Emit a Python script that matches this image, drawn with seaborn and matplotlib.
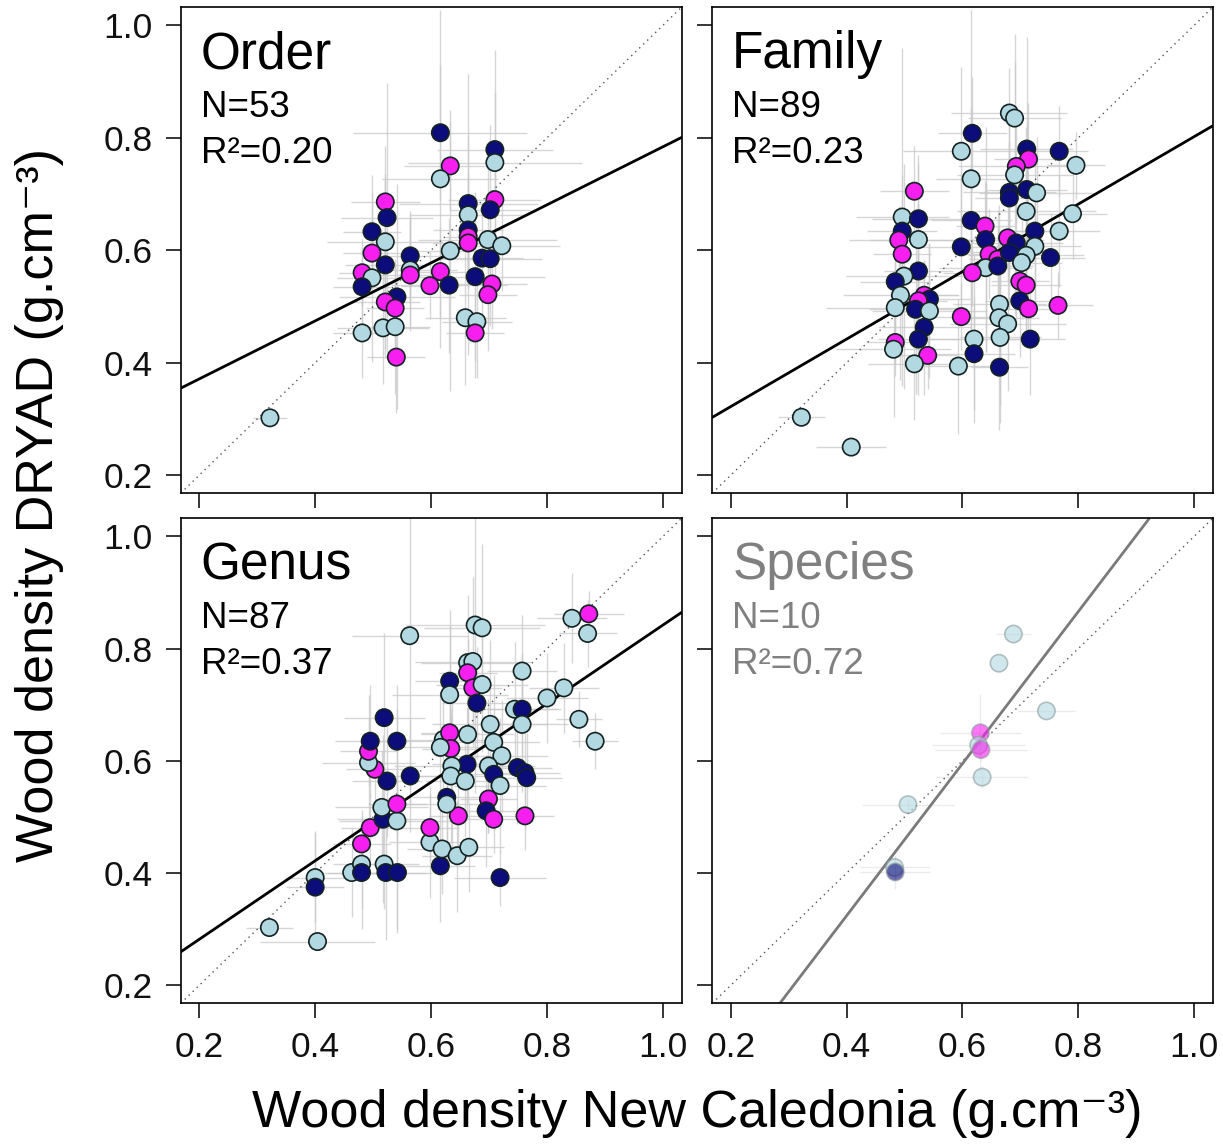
import numpy as np
import pandas as pd
import matplotlib
matplotlib.use("Agg")
import matplotlib.pyplot as plt
import seaborn as sns

# ---------------- data ----------------
# groups: D = dark blue, M = magenta, L = light blue
order_x = [0.322, 0.616, 0.710, 0.710, 0.633, 0.616, 0.521, 0.710, 0.664, 0.702,
           0.524, 0.664, 0.498, 0.664, 0.521, 0.664, 0.664, 0.698, 0.722, 0.633,
           0.498, 0.564, 0.688, 0.702, 0.521, 0.564, 0.481, 0.498, 0.564, 0.616,
           0.598, 0.631, 0.676, 0.705, 0.698, 0.481, 0.541, 0.521, 0.538, 0.659,
           0.679, 0.676, 0.481, 0.517, 0.538, 0.540]
order_y = [0.302, 0.809, 0.779, 0.756, 0.750, 0.727, 0.686, 0.690, 0.683, 0.672,
           0.658, 0.663, 0.633, 0.636, 0.615, 0.624, 0.613, 0.619, 0.608, 0.599,
           0.595, 0.590, 0.586, 0.585, 0.574, 0.565, 0.560, 0.551, 0.556, 0.562,
           0.537, 0.538, 0.553, 0.540, 0.521, 0.535, 0.517, 0.508, 0.497, 0.480,
           0.473, 0.453, 0.453, 0.462, 0.464, 0.410]
order_grp = list("LDDLMLMMDD" "DLDDLMMLLL" "MDDDDLMLMM" "MDDMMDDMML" "LMLLLM")
order_xerr = [0.03, 0.15, 0.10, 0.15, 0.08, 0.10, 0.06, 0.08, 0.12, 0.07,
              0.08, 0.10, 0.05, 0.06, 0.10, 0.04, 0.06, 0.12, 0.10, 0.08,
              0.05, 0.06, 0.07, 0.09, 0.07, 0.08, 0.04, 0.06, 0.05, 0.06,
              0.05, 0.10, 0.12, 0.06, 0.05, 0.05, 0.10, 0.06, 0.05, 0.07,
              0.06, 0.05, 0.05, 0.08, 0.06, 0.05]
order_yerr = [0.01, 0.12, 0.10, 0.20, 0.08, 0.30, 0.10, 0.10, 0.12, 0.15,
              0.24, 0.25, 0.10, 0.10, 0.12, 0.06, 0.08, 0.15, 0.08, 0.25,
              0.06, 0.08, 0.10, 0.12, 0.15, 0.10, 0.06, 0.15, 0.10, 0.08,
              0.06, 0.12, 0.15, 0.08, 0.10, 0.07, 0.20, 0.10, 0.08, 0.12,
              0.10, 0.08, 0.08, 0.10, 0.12, 0.10]

family_x = [0.322, 0.408, 0.681, 0.690, 0.617, 0.598, 0.767, 0.711, 0.714, 0.693,
            0.796, 0.690, 0.615, 0.517, 0.681, 0.711, 0.728, 0.681, 0.710, 0.790,
            0.496, 0.524, 0.615, 0.639, 0.496, 0.767, 0.725, 0.490, 0.524, 0.678,
            0.693, 0.640, 0.598, 0.496, 0.646, 0.661, 0.681, 0.725, 0.710, 0.752,
            0.702, 0.640, 0.661, 0.617, 0.524, 0.499, 0.484, 0.699, 0.710, 0.493,
            0.534, 0.543, 0.524, 0.519, 0.543, 0.484, 0.699, 0.664, 0.714, 0.765,
            0.663, 0.598, 0.678, 0.534, 0.524, 0.484, 0.481, 0.620, 0.665, 0.717,
            0.540, 0.620, 0.517, 0.593, 0.664]
family_y = [0.303, 0.250, 0.844, 0.835, 0.808, 0.776, 0.776, 0.780, 0.762, 0.749,
            0.751, 0.734, 0.727, 0.705, 0.703, 0.708, 0.702, 0.693, 0.669, 0.665,
            0.659, 0.656, 0.653, 0.643, 0.634, 0.634, 0.634, 0.618, 0.619, 0.622,
            0.613, 0.619, 0.606, 0.593, 0.593, 0.584, 0.596, 0.607, 0.591, 0.587,
            0.578, 0.569, 0.572, 0.560, 0.563, 0.554, 0.544, 0.545, 0.538, 0.520,
            0.520, 0.513, 0.510, 0.495, 0.492, 0.498, 0.510, 0.504, 0.496, 0.502,
            0.480, 0.482, 0.469, 0.463, 0.442, 0.436, 0.424, 0.442, 0.445, 0.442,
            0.413, 0.416, 0.398, 0.394, 0.392]
family_grp = list("LLLLDLDDMM" "LLLMDDLDLL" "LDDMDLDMLM" "DDDMMMDLLD" "LLDMDLDMML"
                  "MDMDLLDLMM" "LMLDDMLLLD" "MDLLD")
family_xerr = [0.04, 0.06, 0.10, 0.08, 0.06, 0.10, 0.05, 0.08, 0.06, 0.10,
               0.05, 0.10, 0.06, 0.06, 0.08, 0.07, 0.10, 0.06, 0.12, 0.06,
               0.08, 0.08, 0.07, 0.05, 0.06, 0.07, 0.06, 0.05, 0.12, 0.06,
               0.08, 0.10, 0.07, 0.05, 0.06, 0.05, 0.07, 0.08, 0.10, 0.06,
               0.07, 0.08, 0.06, 0.05, 0.06, 0.10, 0.06, 0.05, 0.06, 0.10,
               0.06, 0.07, 0.05, 0.08, 0.10, 0.12, 0.06, 0.08, 0.05, 0.06,
               0.07, 0.05, 0.10, 0.08, 0.07, 0.05, 0.10, 0.08, 0.07, 0.06,
               0.05, 0.07, 0.08, 0.06, 0.05]
family_yerr = [0.01, 0.01, 0.08, 0.10, 0.10, 0.15, 0.08, 0.20, 0.10, 0.10,
               0.06, 0.25, 0.30, 0.08, 0.15, 0.12, 0.10, 0.10, 0.15, 0.08,
               0.30, 0.10, 0.20, 0.08, 0.10, 0.10, 0.12, 0.06, 0.15, 0.08,
               0.15, 0.20, 0.12, 0.06, 0.08, 0.06, 0.10, 0.10, 0.15, 0.08,
               0.10, 0.15, 0.10, 0.06, 0.12, 0.20, 0.10, 0.06, 0.08, 0.15,
               0.06, 0.10, 0.08, 0.15, 0.12, 0.10, 0.10, 0.12, 0.06, 0.06,
               0.20, 0.06, 0.12, 0.12, 0.10, 0.06, 0.12, 0.15, 0.12, 0.10,
               0.06, 0.10, 0.10, 0.12, 0.10]

genus_x = [0.321, 0.404, 0.400, 0.400, 0.463, 0.480, 0.480, 0.519, 0.522, 0.542,
           0.616, 0.719, 0.598, 0.619, 0.645, 0.665, 0.480, 0.495, 0.598, 0.517,
           0.541, 0.515, 0.541, 0.647, 0.627, 0.627, 0.699, 0.695, 0.708, 0.762,
           0.564, 0.524, 0.503, 0.492, 0.492, 0.495, 0.541, 0.519, 0.563, 0.621,
           0.632, 0.634, 0.663, 0.632, 0.632, 0.663, 0.672, 0.663, 0.672, 0.688,
           0.679, 0.676, 0.688, 0.757, 0.744, 0.757, 0.757, 0.702, 0.708, 0.722,
           0.662, 0.699, 0.708, 0.719, 0.636, 0.634, 0.659, 0.749, 0.762, 0.765,
           0.800, 0.829, 0.843, 0.872, 0.870, 0.855, 0.883, 0.616]
genus_y = [0.303, 0.278, 0.392, 0.375, 0.401, 0.416, 0.401, 0.416, 0.401, 0.401,
           0.413, 0.392, 0.455, 0.443, 0.431, 0.446, 0.452, 0.481, 0.481, 0.496,
           0.493, 0.517, 0.523, 0.502, 0.535, 0.523, 0.532, 0.511, 0.496, 0.502,
           0.573, 0.564, 0.585, 0.597, 0.617, 0.635, 0.635, 0.677, 0.823, 0.638,
           0.650, 0.622, 0.647, 0.742, 0.718, 0.775, 0.777, 0.757, 0.730, 0.736,
           0.703, 0.842, 0.837, 0.760, 0.692, 0.692, 0.665, 0.665, 0.633, 0.609,
           0.594, 0.591, 0.576, 0.556, 0.591, 0.573, 0.564, 0.588, 0.579, 0.570,
           0.712, 0.730, 0.854, 0.862, 0.827, 0.674, 0.635, 0.624]
genus_grp = list("LLLDLLDLDD" "DDLLLLMMMD" "LLMMDLMDMM" "DDMLMDDDLL" "MMLDLLLMML"
                 "DLLLLDLLLL" "DLDLLLLDDD" "LLLMLLLL")
genus_xerr = [0.04, 0.10, 0.05, 0.05, 0.06, 0.05, 0.06, 0.06, 0.07, 0.06,
              0.06, 0.08, 0.07, 0.06, 0.06, 0.06, 0.05, 0.05, 0.05, 0.08,
              0.10, 0.08, 0.05, 0.05, 0.06, 0.08, 0.05, 0.06, 0.05, 0.05,
              0.06, 0.06, 0.05, 0.08, 0.05, 0.06, 0.06, 0.07, 0.10, 0.08,
              0.05, 0.05, 0.08, 0.06, 0.10, 0.08, 0.10, 0.05, 0.05, 0.08,
              0.06, 0.12, 0.10, 0.06, 0.08, 0.06, 0.08, 0.10, 0.08, 0.08,
              0.06, 0.08, 0.06, 0.08, 0.10, 0.08, 0.07, 0.06, 0.06, 0.06,
              0.07, 0.06, 0.06, 0.06, 0.05, 0.04, 0.04, 0.08]
genus_yerr = [0.01, 0.01, 0.08, 0.10, 0.08, 0.08, 0.10, 0.08, 0.12, 0.10,
              0.10, 0.05, 0.10, 0.08, 0.10, 0.08, 0.06, 0.06, 0.06, 0.15,
              0.20, 0.10, 0.06, 0.06, 0.10, 0.10, 0.06, 0.10, 0.06, 0.06,
              0.10, 0.10, 0.06, 0.12, 0.06, 0.10, 0.10, 0.15, 0.30, 0.12,
              0.06, 0.06, 0.12, 0.10, 0.15, 0.12, 0.15, 0.06, 0.06, 0.12,
              0.10, 0.30, 0.15, 0.10, 0.12, 0.10, 0.12, 0.15, 0.12, 0.10,
              0.10, 0.12, 0.10, 0.12, 0.15, 0.12, 0.10, 0.10, 0.10, 0.08,
              0.08, 0.08, 0.08, 0.04, 0.06, 0.05, 0.05, 0.10]

species_x = [0.688, 0.663, 0.745, 0.631, 0.628, 0.632, 0.634, 0.506, 0.483, 0.484]
species_y = [0.826, 0.774, 0.689, 0.650, 0.628, 0.620, 0.571, 0.522, 0.410, 0.402]
species_grp = list("LLLMLMLLLD")
species_xerr = [0.03, 0.00, 0.05, 0.07, 0.08, 0.08, 0.08, 0.08, 0.06, 0.06]
species_yerr = [0.00, 0.00, 0.00, 0.07, 0.02, 0.02, 0.02, 0.01, 0.02, 0.03]

panel_names = ["Order", "Family", "Genus", "Species"]
panel_n = [53, 89, 87, 10]
panel_r2 = ["0.20", "0.23", "0.37", "0.72"]
fit_intercept = [0.268, 0.202, 0.142, -0.218]
fit_slope = [0.516, 0.600, 0.700, 1.355]
tick_values = [0.2, 0.4, 0.6, 0.8, 1.0]
xlabel_text = "Wood density New Caledonia (g.cm⁻³)"
ylabel_text = "Wood density DRYAD (g.cm⁻³)"

# ---------------- style ----------------
sns.set_theme(style="ticks")
plt.rcParams["font.family"] = ["Liberation Sans", "DejaVu Sans"]
plt.rcParams["text.color"] = "black"
plt.rcParams["axes.labelcolor"] = "black"
plt.rcParams["xtick.color"] = "black"
plt.rcParams["ytick.color"] = "black"

palette = {"D": "#0c0c7a", "M": "#f71ef0", "L": "#b2d9e2"}

W, H = 1223, 1144
fig = plt.figure(figsize=(W / 100, H / 100), dpi=100)


def box(l, t, r, b):
    return [l / W, 1 - b / H, (r - l) / W, (b - t) / H]


boxes = [box(180.7, 7.3, 681.5, 493.2), box(712.2, 7.3, 1212.7, 493.2),
         box(180.7, 518.4, 681.5, 1003.3), box(712.2, 518.4, 1212.7, 1003.3)]

datasets = [
    (order_x, order_y, order_grp, order_xerr, order_yerr),
    (family_x, family_y, family_grp, family_xerr, family_yerr),
    (genus_x, genus_y, genus_grp, genus_xerr, genus_yerr),
    (species_x, species_y, species_grp, species_xerr, species_yerr),
]

lims = (0.168, 1.032)

for i, (name, (xs, ys, gs, xe, ye)) in enumerate(zip(panel_names, datasets)):
    ax = fig.add_axes(boxes[i])
    faded = name == "Species"
    df = pd.DataFrame({"x": xs, "y": ys, "grp": gs, "xerr": xe, "yerr": ye})

    ax.set_xlim(*lims)
    ax.set_ylim(*lims)

    # error bars
    ax.errorbar(df["x"], df["y"], xerr=df["xerr"], yerr=df["yerr"], fmt="none",
                ecolor="#c9c9c9", elinewidth=1.0, capsize=0,
                alpha=0.35 if faded else 0.75, zorder=1)

    # 1:1 line
    ax.axline((0.0, 0.0), (1.0, 1.0), ls=(0, (1, 3)), color="#555555", lw=1.0, zorder=2)

    # regression line
    ax.axline((0.0, fit_intercept[i]), slope=fit_slope[i],
              color="#7a7a7a" if faded else "black", lw=2.0, zorder=2.5)

    sns.scatterplot(data=df, x="x", y="y", hue="grp", palette=palette, ax=ax,
                    s=155, edgecolor="#8a9a9a" if faded else "#142222",
                    linewidth=1.2, alpha=0.6 if faded else 1.0,
                    legend=False, zorder=3)

    ax.set_xlim(*lims)
    ax.set_ylim(*lims)
    ax.set_xticks(tick_values)
    ax.set_yticks(tick_values)
    ax.set_xlabel("")
    ax.set_ylabel("")
    ax.tick_params(direction="out", length=11, width=1.1, color="black",
                   labelsize=25.5, labelcolor="#111111", pad=9,
                   bottom=True, left=True, top=False, right=False)
    if i in (0, 1):
        ax.tick_params(labelbottom=False)
    else:
        ax.set_xticklabels([f"{v:.1f}" for v in tick_values])
    if i in (1, 3):
        ax.tick_params(labelleft=False)
    else:
        ax.set_yticklabels([f"{v:.1f}" for v in tick_values])
    for sp in ax.spines.values():
        sp.set_visible(True)
        sp.set_linewidth(1.2)
        sp.set_color("black")

    tcol = "#808080" if faded else "black"
    ax.text(0.040, 0.875, name, transform=ax.transAxes, fontsize=37,
            color=tcol, va="baseline", ha="left")
    ax.text(0.040, 0.774, f"N={panel_n[i]}", transform=ax.transAxes, fontsize=26.5,
            color=tcol, va="baseline", ha="left")
    ax.text(0.040, 0.679, f"R²={panel_r2[i]}", transform=ax.transAxes, fontsize=26.5,
            color=tcol, va="baseline", ha="left")

fig.text(697 / W, 1 - 1113 / H, xlabel_text,
         fontsize=37.5, ha="center", va="center", color="black")
fig.text(40 / W, 1 - 505 / H, ylabel_text,
         fontsize=37.5, ha="center", va="center", rotation=90, color="black")

fig.savefig("out.png", dpi=100)
